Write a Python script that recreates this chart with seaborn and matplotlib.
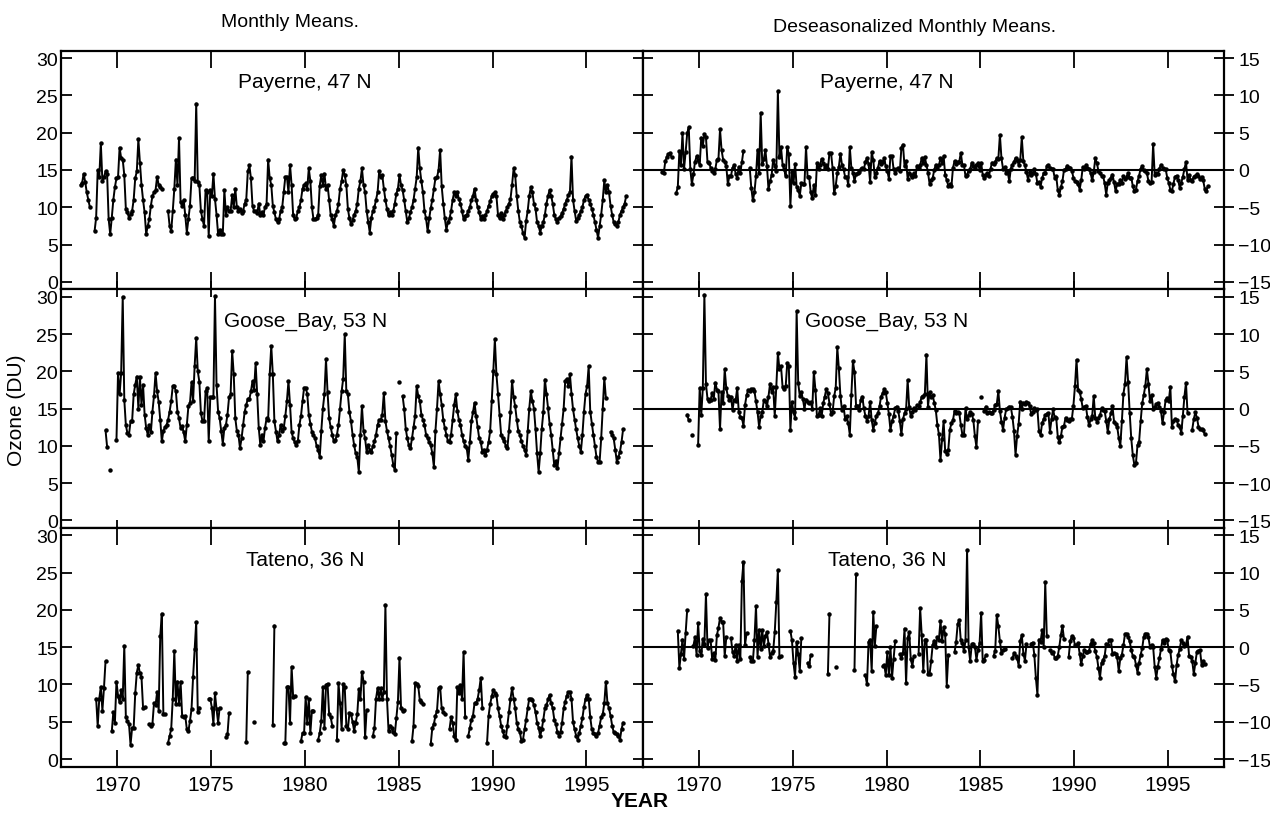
import numpy as np
import pandas as pd
import matplotlib
matplotlib.use("Agg")
import matplotlib.pyplot as plt
import seaborn as sns

NA = np.nan

# Monthly mean ozone (DU), one row per year (Jan..Dec), 1968-1997
YEARS = list(range(1968, 1998))

PAYERNE = [
    [13.0, 13.2, 14.5, 13.4, 12.0, 11.0, 10.0, NA, NA, 6.8, 8.6, 15.0],
    [14.0, 18.6, 13.5, 14.0, 14.8, 14.5, 8.4, 6.4, 8.6, 11.0, 12.7, 13.9],
    [14.0, 18.0, 16.6, 16.4, 14.3, 9.8, 9.3, 8.6, 9.1, 9.5, 11.0, 13.9],
    [14.8, 19.1, 16.0, 13.0, 11.0, 9.3, 6.4, 7.5, 8.4, 10.2, 11.5, 12.0],
    [12.3, 14.1, 13.0, 12.7, 12.5, NA, NA, NA, 9.5, 7.5, 6.8, 9.5],
    [12.5, 16.4, 13.0, 19.3, 10.7, 10.2, 11.0, 8.9, 6.6, 8.4, 10.2, 13.9],
    [13.9, 13.5, 23.9, 13.4, 13.0, 9.5, 8.4, 7.5, 12.3, 12.0, 6.1, 12.3],
    [11.5, 14.5, 11.1, 9.0, 6.4, 7.0, 6.4, 6.4, 12.3, 9.0, 10.0, 9.5],
    [9.5, 11.6, 10.0, 12.5, 10.0, 9.5, 9.8, 9.2, 9.5, 10.5, 11.0, 14.8],
    [15.6, 13.9, 10.2, 9.5, 9.5, 9.2, 10.5, 9.0, 9.3, 9.0, 10.0, 10.5],
    [16.4, 13.9, 13.0, 10.2, 9.3, 8.4, 8.0, 8.4, 9.5, 10.0, 12.0, 14.1],
    [14.1, 12.0, 15.7, 13.0, 8.9, 8.4, 8.6, 9.5, 10.0, 11.0, 12.5, 13.0],
    [13.2, 12.5, 15.2, 13.5, 10.0, 8.4, 8.4, 8.6, 9.0, 12.9, 14.3, 13.0],
    [14.5, 12.5, 13.0, 11.0, 9.0, 8.4, 7.5, 8.9, 9.5, 10.5, 12.5, 13.5],
    [15.0, 14.3, 13.0, 9.8, 8.5, 7.7, 8.3, 9.0, 9.5, 10.5, 12.5, 13.5],
    [15.2, 13.0, 12.0, 9.5, 8.0, 6.6, 8.6, 9.5, 10.0, 11.0, 12.0, 14.8],
    [14.0, 14.3, 12.5, 11.0, 9.8, 8.9, 9.3, 8.9, 9.5, 10.5, 11.8, 12.5],
    [14.3, 13.0, 12.3, 11.0, 9.5, 8.0, 8.5, 9.3, 10.0, 11.0, 12.5, 14.0],
    [18.0, 15.2, 13.5, 12.0, 9.5, 8.5, 6.8, 8.5, 9.9, 11.0, 12.5, 13.9],
    [14.0, 15.0, 17.7, 12.8, 10.5, 8.5, 7.0, 8.0, 8.5, 9.5, 11.0, 12.0],
    [11.5, 12.0, 11.1, 10.5, 9.5, 8.4, 8.8, 9.0, 9.5, 10.0, 11.0, 11.5],
    [12.5, 11.0, 10.0, 9.3, 8.4, 8.8, 8.4, 8.9, 9.5, 10.2, 10.8, 11.5],
    [11.8, 12.0, 11.5, 9.0, 8.5, 9.2, 8.4, 9.0, 9.5, 10.0, 10.5, 11.1],
    [13.0, 15.2, 14.3, 11.5, 9.5, 8.0, 7.5, 6.5, 5.9, 8.2, 9.5, 11.5],
    [12.7, 12.0, 10.5, 9.8, 8.0, 7.5, 6.6, 7.5, 8.0, 9.0, 10.5, 11.5],
    [12.3, 11.5, 10.5, 9.0, 8.4, 8.0, 8.5, 8.8, 9.2, 9.8, 10.5, 11.0],
    [11.6, 12.0, 16.8, 11.0, 9.5, 8.2, 8.5, 9.0, 9.5, 10.0, 11.0, 11.5],
    [11.6, 11.0, 10.5, 9.8, 9.0, 8.0, 7.0, 5.9, 7.5, 9.0, 11.0, 13.6],
    [12.0, 13.0, 12.0, 10.2, 9.0, 8.0, 7.7, 7.5, 8.0, 9.0, 9.5, 10.0],
    [10.5, 11.5, NA, NA, NA, NA, NA, NA, NA, NA, NA, NA],
]

GOOSE_BAY = [
    [NA, NA, NA, NA, NA, NA, NA, NA, NA, NA, NA, NA],
    [NA, NA, NA, NA, 12.1, 9.9, NA, 6.8, NA, NA, NA, 10.8],
    [19.8, 16.9, 19.8, 30.0, 16.2, 12.8, 11.7, 11.5, 13.3, 13.3, 16.9, 18.2],
    [19.3, 15.0, 19.3, 15.5, 18.2, 14.2, 12.4, 11.5, 12.8, 11.8, 14.6, 16.7],
    [19.8, 17.3, 15.9, 13.5, 10.6, 12.0, 12.5, 12.8, 13.5, 14.6, 16.0, 18.0],
    [18.0, 17.3, 14.6, 13.7, 12.4, 12.6, 11.8, 10.6, 12.8, 15.3, 15.7, 18.5],
    [16.0, 20.7, 24.5, 20.0, 18.6, 14.4, 13.3, 13.3, 17.3, 17.7, 10.6, 16.5],
    [16.5, 16.5, 30.1, 18.2, 14.6, 13.7, 12.0, 10.3, 12.4, 12.8, 14.2, 16.5],
    [17.0, 22.7, 19.6, 13.7, 12.0, 11.5, 9.7, 11.0, 12.8, 14.6, 15.5, 16.3],
    [16.3, 17.3, 18.7, 17.5, 21.1, 16.9, 12.4, 10.1, 11.5, 10.6, 12.4, 13.7],
    [13.5, 19.6, 23.4, 19.6, 13.3, 11.9, 10.6, 11.5, 12.8, 12.0, 12.4, 14.0],
    [16.0, 18.7, 15.5, 11.9, 11.0, 10.5, 10.1, 10.6, 12.8, 14.0, 16.0, 17.8],
    [17.8, 17.0, 14.2, 13.0, 11.9, 11.5, 11.0, 10.0, 9.5, 8.5, 12.0, 15.0],
    [16.9, 21.6, 17.2, 13.7, 12.5, 11.5, 10.6, 10.8, 11.5, 12.8, 15.0, 17.3],
    [19.0, 25.0, 17.3, 16.9, 14.5, 13.3, 11.5, 10.1, 9.0, 8.5, 6.5, 11.5],
    [15.3, 12.0, 11.0, 9.2, 10.1, 9.5, 9.2, 10.0, 10.6, 11.5, 12.8, 13.5],
    [13.5, 14.2, 17.1, 13.3, 12.0, 11.0, 10.0, 8.8, 7.5, 6.8, 11.7, NA],
    [18.5, NA, 16.7, 15.0, 12.3, 11.0, 10.1, 9.7, 11.0, 12.5, 14.0, 18.0],
    [16.7, 16.0, 14.2, 13.5, 12.8, 11.5, 11.0, 10.5, 10.1, 9.0, 7.2, 12.0],
    [15.0, 18.7, 17.0, 15.5, 13.5, 12.4, 11.5, 10.6, 10.5, 11.5, 13.5, 15.5],
    [16.9, 14.7, 13.5, 12.8, 11.5, 10.6, 10.0, 9.7, 8.1, 10.5, 13.3, 14.5],
    [15.8, 14.0, 12.5, 11.0, 10.5, 9.2, 9.5, 8.8, 9.5, 10.5, 12.0, 16.0],
    [20.0, 24.3, 19.6, 17.0, 14.2, 11.5, 11.0, 10.6, 10.0, 9.7, 12.0, 14.6],
    [18.7, 16.5, 15.3, 13.5, 12.0, 11.5, 10.6, 10.0, 9.5, 8.8, 12.0, 15.0],
    [17.3, 16.0, 15.0, 12.3, 9.0, 6.5, 9.0, 12.3, 14.5, 18.9, 17.0, 15.1],
    [13.0, 11.5, 9.5, 7.4, 8.0, 7.0, 9.0, 11.0, 13.0, 15.0, 18.7, 19.0],
    [18.0, 19.6, 17.0, 14.9, 13.5, 12.2, 11.0, 10.0, 9.2, 11.5, 14.6, 17.0],
    [18.0, 20.7, 14.6, 13.0, 11.5, 10.0, 8.5, 7.9, 7.9, 11.0, 15.0, 19.1],
    [16.4, NA, NA, 11.9, 11.5, 11.0, 9.5, 7.9, 8.5, 9.2, 10.5, 12.2],
    [NA, NA, NA, NA, NA, NA, NA, NA, NA, NA, NA, NA],
]

TATENO = [
    [NA, NA, NA, NA, NA, NA, NA, NA, NA, NA, 8.1, 4.4],
    [8.1, 9.7, 6.5, 9.5, 13.1, NA, NA, NA, 3.7, 6.3, 4.9, 10.4],
    [8.5, 7.6, 9.2, 8.1, 15.2, 5.6, 5.1, 4.7, 1.9, 4.2, 4.2, 8.8],
    [11.6, 12.6, 11.5, 11.0, 6.9, 7.0, NA, NA, 4.7, 4.4, 4.7, 7.5],
    [7.2, 9.0, 6.5, 16.5, 19.5, 6.0, 6.0, NA, 2.2, 3.1, 4.0, 8.1],
    [14.5, 7.4, 10.4, 7.4, 10.4, 5.8, 5.6, 5.8, 4.0, 3.7, 5.1, 6.7],
    [11.0, 14.7, 18.4, 6.3, 6.9, NA, NA, NA, NA, NA, 8.1, 8.1],
    [6.9, 4.7, 8.8, 6.7, 4.9, 6.9, NA, NA, NA, 2.9, 3.3, 6.2],
    [NA, NA, NA, NA, NA, NA, NA, NA, NA, NA, 2.3, 11.7],
    [NA, NA, NA, 5.0, NA, NA, NA, NA, NA, NA, NA, NA],
    [NA, NA, NA, 4.6, 17.9, NA, NA, NA, NA, NA, 2.1, 2.2],
    [9.7, 9.7, 4.9, 12.4, 8.3, 8.5, NA, NA, NA, 2.4, 3.5, 3.5],
    [8.3, 4.9, 8.1, 3.5, 6.5, 6.5, NA, NA, 2.6, 3.5, 5.1, 9.7],
    [4.2, 9.9, 10.1, 6.0, 5.6, 4.5, NA, NA, 2.6, 10.2, 7.5, 4.0],
    [10.0, 9.6, 4.5, 4.0, 6.2, 6.0, 5.0, 3.8, 4.9, 6.0, 9.4, 8.0],
    [11.7, 10.4, 2.9, 6.6, NA, NA, NA, 3.1, 4.2, 8.1, 9.5, 8.1],
    [9.5, 8.1, 9.0, 20.7, 8.1, 3.8, 4.5, 4.2, 3.6, 3.3, 5.5, 7.7],
    [13.6, 6.8, 6.4, 6.6, NA, NA, NA, NA, 2.4, 4.5, 10.2, 10.0],
    [9.8, 7.9, 7.7, 7.4, NA, NA, NA, NA, 2.0, 4.2, 4.7, 5.8],
    [6.5, 9.5, 9.7, 6.8, 6.3, 6.1, NA, NA, 4.0, 5.6, 4.9, 3.1],
    [2.6, 9.7, 8.8, 9.9, 8.1, 14.4, 5.6, NA, 3.1, 4.2, 5.3, 5.8],
    [7.5, 7.5, 8.1, 9.3, 10.9, 6.8, NA, NA, 2.2, 5.8, 7.4, 8.4],
    [9.3, 8.9, 8.6, 6.8, 5.8, 4.5, 3.8, 3.1, 2.9, 4.5, 6.3, 8.1],
    [9.5, 8.1, 6.8, 4.9, 4.0, 3.6, 2.4, 2.6, 4.0, 5.3, 6.8, 8.1],
    [8.1, 7.9, 7.2, 6.3, 4.9, 4.2, 3.1, 4.0, 5.3, 6.8, 7.2, 8.0],
    [8.6, 7.5, 6.8, 5.3, 4.7, 3.6, 3.1, 3.6, 4.9, 6.8, 7.7, 8.5],
    [9.0, 9.0, 8.1, 5.0, 4.0, 3.1, 2.6, 3.5, 4.5, 5.5, 7.0, 8.1],
    [8.6, 8.1, 5.6, 4.0, 3.5, 3.3, 3.1, 3.5, 4.5, 5.6, 6.0, 7.5],
    [10.4, 7.5, 6.8, 5.8, 4.5, 3.6, 3.5, 3.3, 3.1, 2.6, 4.0, 4.9],
    [NA, NA, NA, NA, NA, NA, NA, NA, NA, NA, NA, NA],
]

STATIONS = ["Payerne, 47 N", "Goose_Bay, 53 N", "Tateno, 36 N"]
SERIES = [PAYERNE, GOOSE_BAY, TATENO]
YEAR_TICKS = [1970, 1975, 1980, 1985, 1990, 1995]
LEFT_TICKS = [0, 5, 10, 15, 20, 25, 30]
RIGHT_TICKS = [-15, -10, -5, 0, 5, 10, 15]


def monthly_frame(rows):
    rec = []
    for year, vals in zip(YEARS, rows):
        for m, v in enumerate(vals):
            rec.append((year + (m + 0.5) / 12.0, m, v))
    df = pd.DataFrame(rec, columns=["t", "month", "ozone"])
    # deseasonalize: subtract the long-term mean of each calendar month
    df["anom"] = df["ozone"] - df.groupby("month")["ozone"].transform("mean")
    # break the line at missing months
    df["seg"] = df["ozone"].isna().cumsum()
    return df.dropna(subset=["ozone"])


sns.set_style("ticks")
plt.rcParams["font.family"] = ["Liberation Sans", "DejaVu Sans"]
for key in ("text.color", "axes.labelcolor", "xtick.color", "ytick.color",
            "axes.edgecolor"):
    plt.rcParams[key] = "black"

fig, axes = plt.subplots(
    3, 2, figsize=(12.7, 8.2), dpi=100,
    gridspec_kw=dict(left=0.048, right=0.964, top=0.937, bottom=0.064,
                     hspace=0.0, wspace=0.0),
)

line_kw = dict(estimator=None, color="black", linewidth=1.4, marker="o",
               markersize=3.2, markeredgewidth=0, legend=False)

for row, (name, rows) in enumerate(zip(STATIONS, SERIES)):
    df = monthly_frame(rows)
    axl, axr = axes[row]

    sns.lineplot(data=df, x="t", y="ozone", units="seg", ax=axl, **line_kw)
    sns.lineplot(data=df, x="t", y="anom", units="seg", ax=axr, **line_kw)
    axr.axhline(0, color="black", linewidth=1.5, zorder=1)

    for ax in (axl, axr):
        ax.set_xlim(1967, 1998)
        ax.set_xticks(YEAR_TICKS)
        ax.set_xlabel("")
        ax.set_ylabel("")
        for sp in ax.spines.values():
            sp.set_visible(True)
            sp.set_linewidth(1.6)
            sp.set_color("black")
        xdir = "inout" if row == 1 else "in"
        ax.tick_params(axis="x", direction=xdir, length=12, width=1.3,
                       top=True, bottom=True, labelsize=15,
                       labelbottom=(row == 2), pad=6)
        ax.text(0.42, 0.87, name, transform=ax.transAxes, fontsize=15,
                ha="center", va="center")

    axl.set_ylim(-1, 31)
    axl.set_yticks(LEFT_TICKS)
    axl.tick_params(axis="y", direction="in", length=8, width=1.3,
                    left=True, right=False, labelsize=14, pad=2)

    axr.set_ylim(-16, 16)
    axr.set_yticks(RIGHT_TICKS)
    axr.tick_params(axis="y", direction="inout", length=14, width=1.3,
                    left=True, right=True, labelleft=False, labelright=True,
                    labelsize=14, pad=3)

fig.text(0.228, 0.972, "Monthly Means.", fontsize=14, ha="center", va="center")
fig.text(0.72, 0.966, "Deseasonalized Monthly Means.", fontsize=14,
         ha="center", va="center")
fig.text(0.013, 0.5, "Ozone (DU)", rotation=90, fontsize=15,
         ha="center", va="center")
fig.text(0.504, 0.022, "YEAR", fontsize=15, fontweight="bold",
         ha="center", va="center")

fig.savefig("out.png", dpi=100)
